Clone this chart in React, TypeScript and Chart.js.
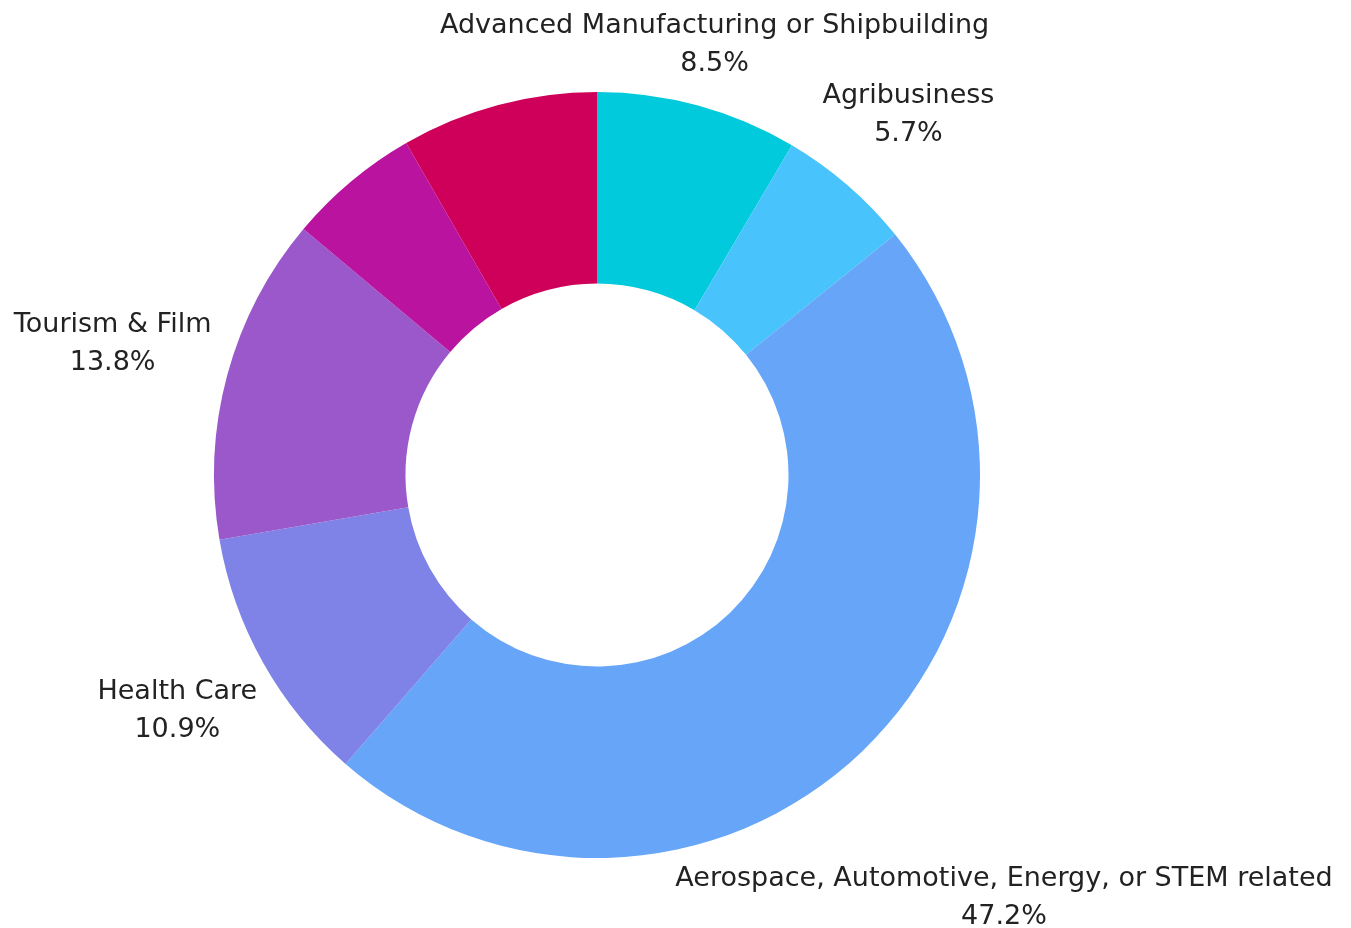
import React, { useEffect, useRef } from "react";
import { Chart, registerables } from "chart.js";

Chart.register(...registerables);

const categories = [
  "Advanced Manufacturing or Shipbuilding",
  "Agribusiness",
  "Aerospace, Automotive, Energy, or STEM related",
  "Health Care",
  "Tourism & Film",
  "Other A",
  "Other B",
];
const shares = [8.5, 5.7, 47.2, 10.9, 13.8, 5.6, 8.3];
const showLabel = [true, true, true, true, true, false, false];
const colors = ["#00CADB", "#48C3FC", "#66A5F8", "#7F82E6", "#9A58CA", "#B9139F", "#CE005A"];
// radial distance of each label's centre, as a multiple of the outer radius
const labelDistance = [1.163, 1.243, 1.532, 1.257, 1.31, 1.2, 1.2];

const FONT = "27px 'DejaVu Sans', sans-serif";
const LINE_GAP = 38;

const outsideLabels = {
  id: "outsideLabels",
  afterDatasetsDraw(chart: any) {
    const ctx = chart.ctx;
    const meta = chart.getDatasetMeta(0);
    ctx.save();
    ctx.font = FONT;
    ctx.fillStyle = "#222222";
    ctx.textAlign = "center";
    ctx.textBaseline = "middle";
    meta.data.forEach((arc: any, i: number) => {
      if (!showLabel[i]) return;
      const { x, y, startAngle, endAngle, outerRadius } = arc.getProps(
        ["x", "y", "startAngle", "endAngle", "outerRadius"],
        true
      );
      const mid = (startAngle + endAngle) / 2;
      const r = outerRadius * labelDistance[i];
      const cx = x + Math.cos(mid) * r;
      const cy = y + Math.sin(mid) * r;
      ctx.fillText(categories[i], cx, cy - LINE_GAP / 2);
      ctx.fillText(shares[i].toFixed(1) + "%", cx, cy + LINE_GAP / 2);
    });
    ctx.restore();
  },
};

export default function App() {
  const ref = useRef<HTMLCanvasElement | null>(null);
  useEffect(() => {
    if (!ref.current) return;
    const chart = new Chart(ref.current, {
      type: "doughnut",
      data: {
        labels: categories,
        datasets: [
          {
            data: shares,
            backgroundColor: colors,
            borderWidth: 0,
          },
        ],
      },
      options: {
        responsive: false,
        animation: false,
        devicePixelRatio: 1,
        cutout: "50%",
        layout: { padding: { left: 214, right: 371, top: 92, bottom: 70 } },
        plugins: {
          legend: { display: false },
          tooltip: { enabled: false },
        },
      },
      plugins: [outsideLabels],
    });
    return () => chart.destroy();
  }, []);
  return (
    <div style={{ position: "absolute", left: 0, top: 0, width: 1351, height: 928, background: "#fff" }}>
      <canvas ref={ref} width={1351} height={928} style={{ width: 1351, height: 928 }} />
    </div>
  );
}
